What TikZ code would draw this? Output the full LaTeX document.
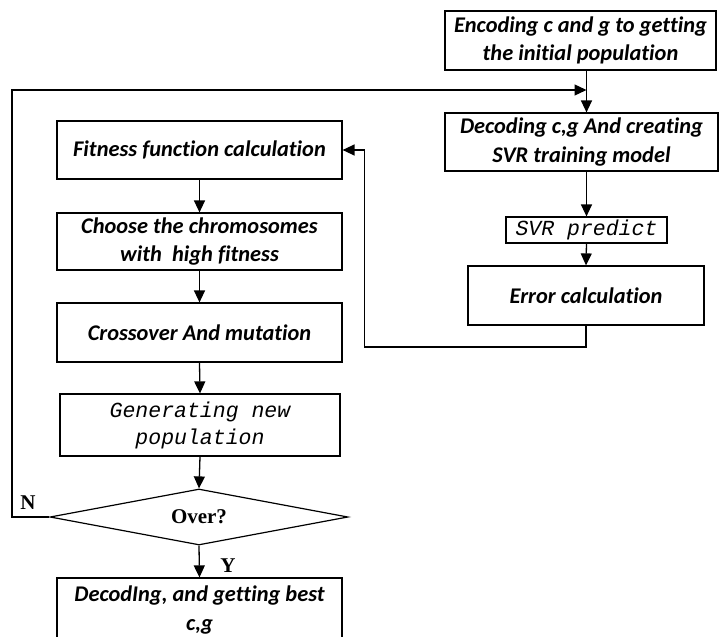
\documentclass[tikz,border=0pt]{standalone}
\usepackage{fontspec}
\setmainfont[Ligatures=NoCommon]{Carlito}
\newfontfamily\monofont{Liberation Mono}
\newfontfamily\timesfont{Liberation Serif}
\usetikzlibrary{arrows.meta,positioning,shapes.geometric,calc}

\begin{document}
\begin{tikzpicture}[
  x=1pt, y=-1pt,
  font=\fontsize{22.4}{28.5}\selectfont\bfseries\itshape,
  box/.style={draw, line width=1.2pt, align=center, inner sep=0pt},
  codebox/.style={box, font=\fontsize{21.5}{27}\selectfont\monofont\itshape},
  arr/.style={line width=1.3pt, -{Triangle[width=11pt,length=12pt]}},
  lbl/.style={font=\fontsize{21}{24}\selectfont\timesfont\bfseries},
]
  \useasboundingbox (0,0) rectangle (721,637);
  % right column: SVR part
  \node[box, minimum width=271, minimum height=59] (enc) at (580.5,40.5) {Encoding c and g to getting\\the initial population};
  \node[box, minimum width=273, minimum height=58] (dec) at (581.5,142) {Decoding c,g And creating\\SVR training model};
  \node[codebox, minimum width=161, minimum height=26] (svr) at (586.5,230) {SVR predict};
  \node[box, minimum width=236, minimum height=59] (err) at (586,295.5) {Error calculation};
  % left column: GA part
  \node[box, minimum width=285, minimum height=58] (fit) at (199.5,150) {Fitness function calculation};
  \node[box, minimum width=285, minimum height=57] (cho) at (199.5,241.5) {Choose the chromosomes\\with\ \ high fitness};
  \node[box, minimum width=285, minimum height=59] (cro) at (199.5,332.5) {Crossover And mutation};
  \node[codebox, minimum width=280, minimum height=62] (gen) at (200,425) {Generating new\\population};
  \node[draw, line width=1.2pt, diamond, aspect=5.3, minimum width=298, minimum height=56, inner sep=0pt, lbl] (over) at (199,517) {Over?};
  \node[box, minimum width=285, minimum height=64] (best) at (199.5,610) {DecodIng, and getting best\\c,g};
  \coordinate (ltop) at (12,90);
  \coordinate (rbot) at (364.5,347);

  \draw[arr] (enc.south -| svr.center) -- (dec.north -| svr.center);
  \draw[arr] (dec.south -| svr.center) -- (svr.north);
  \draw[arr] (svr.south) -- (err.north);
  \draw[arr] (err.south) |- (rbot) |- (fit.east);
  \foreach \a/\b in {fit/cho, cho/cro, cro/gen, gen/over, over/best} {
    \draw[arr] (\a.south) -- (\b.north);
  }
  \draw[arr] (over.west) -| (ltop) -- (ltop -| svr.center);
  \node[lbl] (nlab) at (28,503) {N};
  \node[lbl] (ylab) at (228,566) {Y};
\end{tikzpicture}
\end{document}
